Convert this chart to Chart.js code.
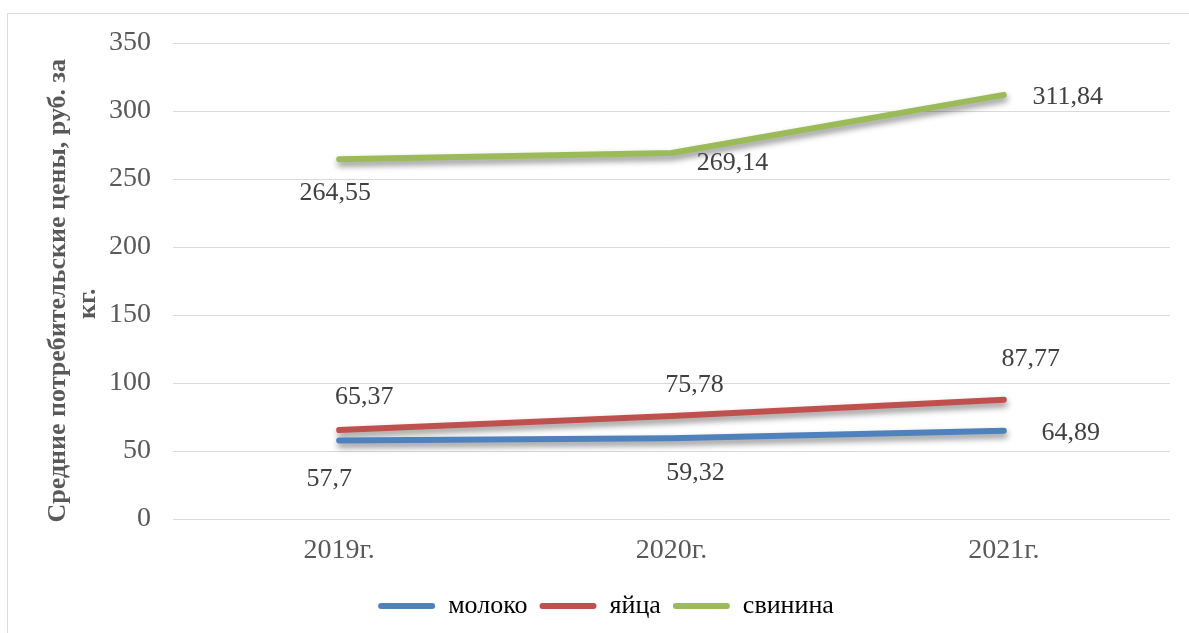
<!DOCTYPE html>
<html>
<head>
<meta charset="utf-8">
<script src="https://cdn.jsdelivr.net/npm/chart.js@4.4.1/dist/chart.umd.min.js"></script>
<style>
    html, body { margin: 0; padding: 0; background: #fff; overflow: hidden; }
    #frame { position: absolute; left: 7px; top: 13px; width: 1300px; height: 800px;
             border-left: 1px solid #d9d9d9; border-top: 1px solid #d9d9d9; }
    #wrap { position: absolute; left: 0; top: 0; width: 1189px; height: 633px; }
</style>
</head>
<body>
<div id="frame"></div>
<div id="wrap"><canvas id="priceChart" width="1189" height="633"></canvas></div>
<script>
// data
const years = ['2019г.', '2020г.', '2021г.'];
const milk = [57.7, 59.32, 64.89];
const eggs = [65.37, 75.78, 87.77];
const pork = [264.55, 269.14, 311.84];
const yTicks = [0, 50, 100, 150, 200, 250, 300, 350];

// where each value label sits relative to its point (px)
const milkLabelPos = [[-10, 39], [24, 35], [67, 2]];
const eggsLabelPos = [[25, -33], [23, -31], [27, -40]];
const porkLabelPos = [[-4, 34], [61, 10], [64, 2]];

const serif = "'Liberation Serif', 'Times New Roman', serif";

function fmt(v) {
    return String(v).replace('.', ',');
}

// soft drop shadow under the lines
const lineShadow = {
    id: 'lineShadow',
    beforeDatasetDraw(chart) {
        const ctx = chart.ctx;
        ctx.save();
        ctx.shadowColor = 'rgba(0,0,0,0.45)';
        ctx.shadowBlur = 6;
        ctx.shadowOffsetX = 1;
        ctx.shadowOffsetY = 4;
    },
    afterDatasetDraw(chart) {
        chart.ctx.restore();
    }
};

const valueLabels = {
    id: 'valueLabels',
    afterDatasetsDraw(chart) {
        const ctx = chart.ctx;
        ctx.save();
        ctx.font = '26px ' + serif;
        ctx.fillStyle = '#404040';
        ctx.textAlign = 'center';
        ctx.textBaseline = 'middle';
        chart.data.datasets.forEach(function (ds, i) {
            const meta = chart.getDatasetMeta(i);
            meta.data.forEach(function (pt, j) {
                const off = ds.labelPos[j];
                ctx.fillText(fmt(ds.data[j]), pt.x + off[0], pt.y + off[1]);
            });
        });
        ctx.restore();
    }
};

function series(label, data, color, labelPos) {
    return {
        label: label,
        data: data,
        borderColor: color,
        backgroundColor: color,
        borderWidth: 6,
        borderCapStyle: 'round',
        borderJoinStyle: 'round',
        pointRadius: 0,
        pointHoverRadius: 0,
        tension: 0,
        fill: false,
        labelPos: labelPos
    };
}

const ctx = document.getElementById('priceChart').getContext('2d');
new Chart(ctx, {
    type: 'line',
    data: {
        labels: years,
        datasets: [
            series('молоко', milk, '#4f81bd', milkLabelPos),
            series('яйца', eggs, '#c0504d', eggsLabelPos),
            series('свинина', pork, '#9bbb59', porkLabelPos)
        ]
    },
    options: {
        responsive: false,
        animation: false,
        layout: {
            padding: { top: 43, right: 19, bottom: 4, left: 42 }
        },
        plugins: {
            legend: {
                position: 'bottom',
                labels: {
                    font: { family: serif, size: 26 },
                    color: '#595959',
                    boxWidth: 57,
                    boxHeight: 6,
                    padding: 12,
                    generateLabels(chart) {
                        return chart.data.datasets.map(function (ds, i) {
                            return {
                                text: ds.label,
                                fillStyle: ds.borderColor,
                                strokeStyle: ds.borderColor,
                                lineWidth: 0,
                                borderRadius: 3,
                                datasetIndex: i
                            };
                        });
                    }
                }
            },
            tooltip: { enabled: false }
        },
        scales: {
            x: {
                offset: true,
                grid: { display: false, drawTicks: false },
                border: { display: false },
                ticks: {
                    font: { family: serif, size: 28 },
                    color: '#595959',
                    padding: 15
                },
                afterFit(scale) { scale.height = 62; }
            },
            y: {
                min: 0,
                max: 350,
                afterBuildTicks(scale) {
                    scale.ticks = yTicks.map(function (v) { return { value: v }; });
                },
                grid: { color: '#d9d9d9', lineWidth: 1, drawTicks: false },
                border: { display: false },
                ticks: {
                    font: { family: serif, size: 28 },
                    color: '#595959',
                    padding: 22
                },
                title: {
                    display: true,
                    // trailing spaces nudge the rotated lines a bit lower, as in the original
                    text: ['Средние потребительские цены, руб. за   ', 'кг.       '],
                    font: { family: serif, size: 26, weight: 'bold', lineHeight: 1.15 },
                    color: '#595959',
                    padding: { top: 1, bottom: 0 }
                },
                afterFit(scale) { scale.width = 131; }
            }
        }
    },
    plugins: [lineShadow, valueLabels]
});
</script>
</body>
</html>
